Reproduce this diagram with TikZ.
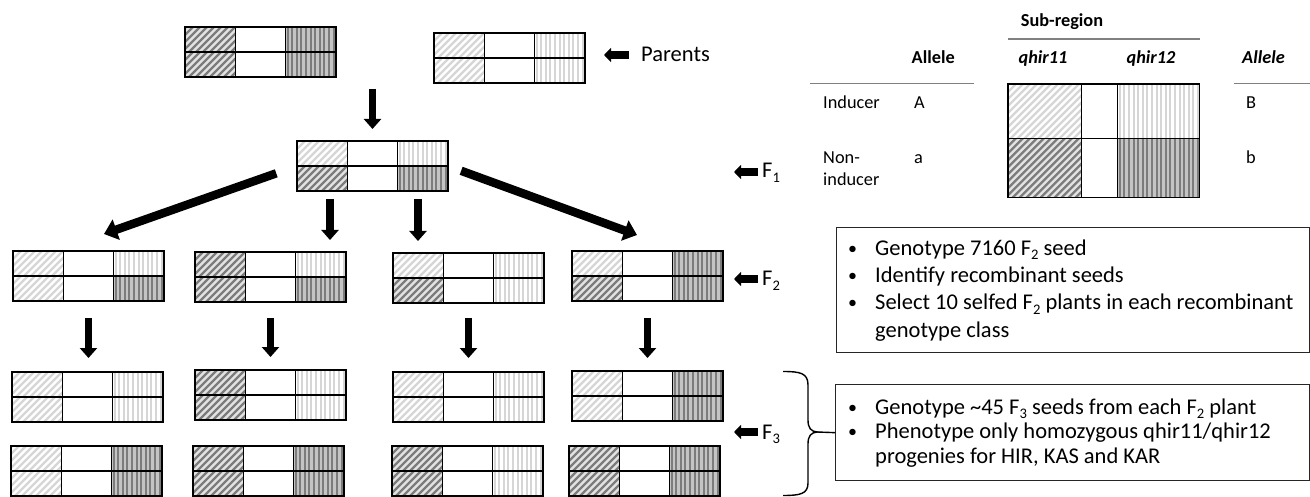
\documentclass[tikz,border=0pt]{standalone}
\usepackage{fontspec}
\setmainfont{Carlito}
\usetikzlibrary{arrows.meta}

\definecolor{hatchlight}{HTML}{D6D6D6}
\definecolor{hatchdark}{HTML}{7C7C7C}
\definecolor{bgdark}{HTML}{E3E3E3}
\definecolor{bgvdark}{HTML}{C4C4C4}
\definecolor{rulegray}{HTML}{808080}

% lowered small digit subscript, as in the reference
\newcommand\lowsub[1]{\raisebox{-4.2pt}{\fontsize{14.6}{14.6}\selectfont #1}}
% small bullet
\newcommand\smbullet{\raisebox{1pt}{\fontsize{18}{18}\selectfont\textbullet}}

% diagonal hatch: x1 y1 x2 y2 bg line
\newcommand\hatchD[6]{%
  \begin{scope}
    \clip (#1,#2) rectangle (#3,#4);
    \fill[#5] (#1,#2) rectangle (#3,#4);
    \pgfmathsetmacro\hh{#4-#2}%
    \pgfmathsetmacro\xs{#1-\hh}%
    \pgfmathsetmacro\xn{\xs+7}%
    \foreach \hs in {\xs,\xn,...,#3} {\draw[#6, line width=2.3pt] (\hs,#4+1) -- ++(\hh+3,-\hh-3);}
  \end{scope}}
% vertical hatch
\newcommand\hatchV[6]{%
  \begin{scope}
    \clip (#1,#2) rectangle (#3,#4);
    \fill[#5] (#1,#2) rectangle (#3,#4);
    \pgfmathsetmacro\xs{#1+2}%
    \pgfmathsetmacro\xn{\xs+4.6}%
    \foreach \hs in {\xs,\xn,...,#3} {\draw[#6, line width=2pt] (\hs,#2) -- (\hs,#4);}
  \end{scope}}
\newcommand\patA[4]{\hatchD{#1}{#2}{#3}{#4}{white}{hatchlight}}
\newcommand\pata[4]{\hatchD{#1}{#2}{#3}{#4}{bgdark}{hatchdark}}
\newcommand\patB[4]{\hatchV{#1}{#2}{#3}{#4}{white}{hatchlight}}
\newcommand\patb[4]{\hatchV{#1}{#2}{#3}{#4}{bgvdark}{hatchdark}}
\newcommand\cellpat[5]{\csname pat#1\endcsname{#2}{#3}{#4}{#5}}

% genotype box: name, x, y (top-left), TL, TR, BL, BR
\newcommand\genobox[7]{%
  \pgfmathsetmacro\gxa{#2}\pgfmathsetmacro\gxb{#2+50.33}%
  \pgfmathsetmacro\gxc{#2+100.67}\pgfmathsetmacro\gxd{#2+151}%
  \pgfmathsetmacro\gya{#3}\pgfmathsetmacro\gyb{#3+25}\pgfmathsetmacro\gyc{#3+50}%
  \cellpat{#4}{\gxa}{\gya}{\gxb}{\gyb}%
  \cellpat{#5}{\gxc}{\gya}{\gxd}{\gyb}%
  \cellpat{#6}{\gxa}{\gyb}{\gxb}{\gyc}%
  \cellpat{#7}{\gxc}{\gyb}{\gxd}{\gyc}%
  \draw[gridline] (\gxa,\gya) rectangle (\gxd,\gyc)
    (\gxb,\gya) -- (\gxb,\gyc) (\gxc,\gya) -- (\gxc,\gyc)
    (\gxa,\gyb) -- (\gxd,\gyb);%
  \node[genonode] (#1) at ({#2+75.5},{#3+25}) {};%
}

\begin{document}
\begin{tikzpicture}[x=1pt,y=-1pt,
  gridline/.style={draw=black, line width=1.3pt},
  genonode/.style={rectangle, minimum width=151pt, minimum height=50pt, inner sep=0pt, outer sep=0pt},
  bigarrow/.style={line width=7.5pt, -{Triangle[width=17pt,length=10pt]}},
  diagarrow/.style={line width=8.5pt, -{Triangle[width=21pt,length=13pt]}},
  lblarrow/.style={line width=8.5pt, -{Triangle[width=14pt,length=7pt]}},
  lbl/.style={font=\fontsize{22.5}{27.2}\selectfont, inner sep=0pt, anchor=base west},
  lbltwo/.style={font=\fontsize{22.5}{24.5}\selectfont, inner sep=0pt, anchor=base west},
  tbl/.style={font=\fontsize{18.3}{22.7}\selectfont, inner sep=0pt, anchor=base west},
  tblb/.style={font=\fontsize{18.3}{22.7}\selectfont\bfseries, inner sep=0pt, anchor=base west},
  tblbi/.style={font=\fontsize{18.3}{22.7}\selectfont\bfseries\itshape, inner sep=0pt, anchor=base west},
  tablerule/.style={draw=rulegray, line width=1.5pt},
  textbox/.style={draw=black!85, line width=1.3pt, anchor=north west, inner sep=0pt},
  bracepath/.style={draw=black, line width=1.4pt}]

\useasboundingbox (0,0) rectangle (1310,497);
\fill[white] (0,0) rectangle (1310,497);

% ---------- genotype boxes ----------
\genobox{p1}{185}{27}{a}{b}{a}{b}
\genobox{p2}{434}{33}{A}{B}{A}{B}
\genobox{f1}{297}{141}{A}{B}{a}{b}

\genobox{f2a}{13}{251}{A}{B}{A}{b}
\genobox{f2b}{195}{252}{a}{B}{a}{b}
\genobox{f2c}{393}{253}{A}{B}{a}{B}
\genobox{f2d}{572}{251}{A}{b}{a}{b}

\genobox{f3a}{12}{372}{A}{B}{A}{B}
\genobox{f3b}{195}{370}{a}{B}{a}{B}
\genobox{f3c}{393}{372}{A}{B}{A}{B}
\genobox{f3d}{572}{371}{A}{b}{A}{b}

\genobox{f3e}{11}{446}{A}{b}{A}{b}
\genobox{f3f}{193}{446}{a}{b}{a}{b}
\genobox{f3g}{392}{446}{a}{B}{a}{B}
\genobox{f3h}{569}{446}{a}{b}{a}{b}

% ---------- arrows ----------
\coordinate (pc) at (372.5,89);
\draw[bigarrow, shorten >=12pt] (pc) -- (f1.north);

\coordinate (ltip) at (104,234);
\coordinate (rtip) at (637,235);
\draw[diagarrow, shorten <=22pt] (f1.west) -- (ltip);
\draw[diagarrow, shorten <=14pt] (f1.east) -- (rtip);

\draw[bigarrow, shorten <=8pt, shorten >=12pt] ([xshift=-42.5pt]f1.south) -- ([xshift=-42.5pt]f1.south |- f2b.north);
\draw[bigarrow, shorten <=8pt, shorten >=12pt] ([xshift=45.5pt]f1.south) -- ([xshift=45.5pt]f1.south |- f2c.north);

\draw[bigarrow, shorten <=17pt, shorten >=14pt] (f2a.south) -- (f2a.south |- f3a.north);
\draw[bigarrow, shorten <=16pt, shorten >=13pt] (f2b.south) -- (f2b.south |- f3b.north);
\draw[bigarrow, shorten <=15pt, shorten >=14pt] (f2c.south) -- (f2c.south |- f3c.north);
\draw[bigarrow, shorten <=17pt, shorten >=13pt] (f2d.south) -- (f2d.south |- f3d.north);

% ---------- generation labels ----------
\node[lbl] (parLab) at (641,62) {Parents};
\coordinate (parTip) at (604,55);
\draw[lblarrow, shorten <=12pt] (parTip -| parLab.west) -- (parTip);

\node[lbl] (f1Lab) at (762,178) {F\lowsub{1}};
\coordinate (f1Tip) at (734,172);
\draw[lblarrow, shorten <=4pt] (f1Tip -| f1Lab.west) -- (f1Tip);

\node[lbl] (f2Lab) at (762,286) {F\lowsub{2}};
\coordinate (f2Tip) at (734,279);
\draw[lblarrow, shorten <=4pt] (f2Tip -| f2Lab.west) -- (f2Tip);

\node[lbl] (f3Lab) at (762,439) {F\lowsub{3}};
\coordinate (f3Tip) at (734,432);
\draw[lblarrow, shorten <=4pt] (f3Tip -| f3Lab.west) -- (f3Tip);

% ---------- legend table ----------
\node[tblb, anchor=base] (subreg) at (1062,27) {Sub-region};
\draw[tablerule] (1008,39) -- (1200,39);
\node[tblb] (alleleL) at (911.5,63.3) {Allele};
\node[tblbi, anchor=base] (q11) at (1043,63.3) {qhir11};
\node[tblbi, anchor=base] (q12) at (1151,63.3) {qhir12};
\node[tblbi] (alleleR) at (1242,63.3) {Allele};
\draw[tablerule] (810,83.5) -- (974,83.5);
\draw[tablerule] (1233.5,83.5) -- (1310,83.5);

\cellpat{A}{1008}{84}{1081.7}{138.3}
\cellpat{B}{1117.7}{84}{1199.3}{138.3}
\cellpat{a}{1008}{138.3}{1081.7}{197.3}
\cellpat{b}{1117.7}{138.3}{1199.3}{197.3}
\draw[draw=black, line width=1.1pt] (1008,84) rectangle (1199.3,197.3)
  (1081.7,84) -- (1081.7,197.3) (1117.7,84) -- (1117.7,197.3)
  (1008,138.3) -- (1199.3,138.3);
\node[rectangle, minimum width=191.3pt, minimum height=113.3pt, inner sep=0pt] (legend) at (1103.65,140.65) {};

\node[tbl] (ind) at (823,108.3) {Inducer};
\node[tbl] (alA) at (914,108.3) {A};
\node[tbl] (alB) at (1246,108.3) {B};
\node[tbl] (nonind) at (823,163.3) {\begin{tabular}[t]{@{}l@{}}Non-\\inducer\end{tabular}};
\node[tbl] (ala) at (914,163.3) {a};
\node[tbl] (alb) at (1246,163.3) {b};

% ---------- text boxes ----------
\node[textbox, minimum width=473pt, minimum height=125pt] (box1) at (836,227) {};
\node[lbl] (box1txt) at (848,255.5) {\begin{tabular}[t]{@{}p{27pt}@{}l@{}}
\smbullet & Genotype 7160 F\lowsub{2} seed\\
\smbullet & Identify recombinant seeds\\
\smbullet & Select 10 selfed F\lowsub{2} plants in each recombinant\\
 & genotype class\end{tabular}};

\node[textbox, minimum width=474pt, minimum height=96pt] (box2) at (835,384) {};
\node[lbltwo] (box2txt) at (848,414) {\begin{tabular}[t]{@{}p{27pt}@{}l@{}}
\smbullet & Genotype \textasciitilde 45 F\lowsub{3} seeds from each F\lowsub{2} plant\\
\smbullet & Phenotype only homozygous qhir11/qhir12\\
 & progenies for HIR, KAS and KAR\end{tabular}};

% ---------- brace ----------
\draw[bracepath] (783,371.5) .. controls (800,371.5) and (808,373) .. (808,385)
  -- (808,420) .. controls (808,428) and (811,431.5) .. (817,432)
  .. controls (811,432.5) and (808,436) .. (808,444)
  -- (808,483) .. controls (808,494) and (800,495.5) .. (783,495.5);
\coordinate (braceTip) at (817,432);
\draw[bracepath] (braceTip) -- (box2.west);

\end{tikzpicture}
\end{document}
